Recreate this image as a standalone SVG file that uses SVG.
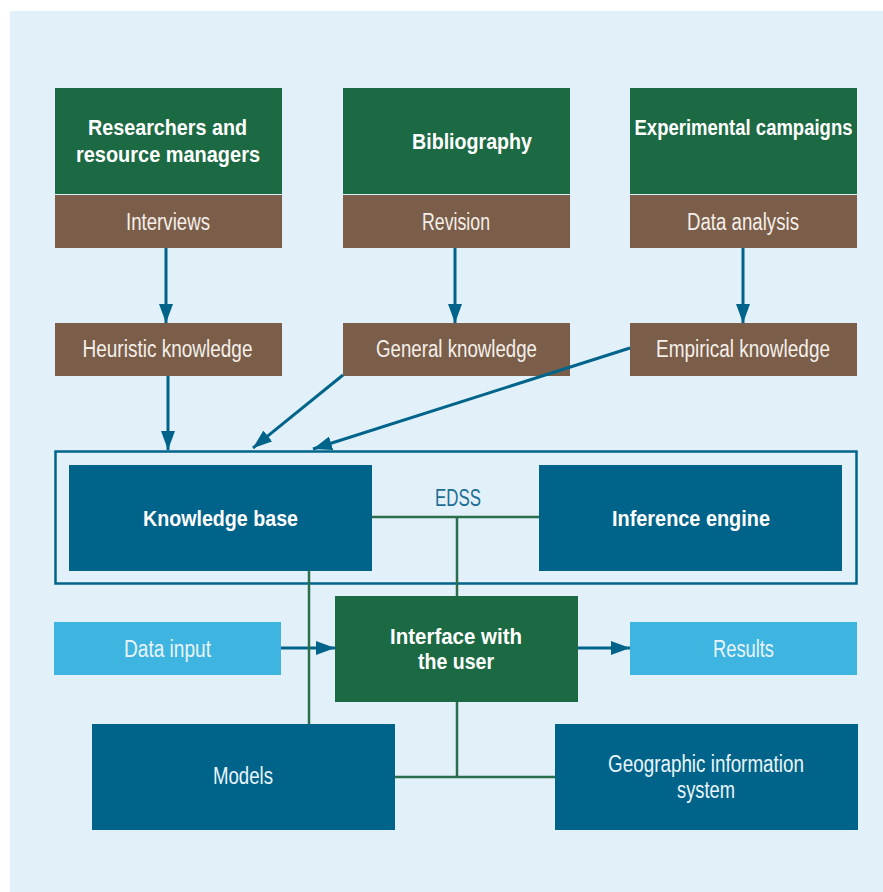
<svg xmlns="http://www.w3.org/2000/svg" width="883" height="892" viewBox="0 0 883 892">
<defs>
<style>
.g{fill:#1C6A43}
.b{fill:#7B5E49}
.d{fill:#00648A}
.c{fill:#3DB5E0}
.tb{font-family:"Liberation Sans",Arial,sans-serif;font-weight:bold;font-size:22px;fill:#FFFFFF;text-anchor:middle}
.tl{font-family:"Liberation Sans",Arial,sans-serif;font-size:23px;fill:#F4EFEA;text-anchor:middle}
.tw{font-family:"Liberation Sans",Arial,sans-serif;font-size:23px;fill:#EAF4FA;text-anchor:middle}
.arr{stroke:#00648A;stroke-width:3;fill:none;marker-end:url(#ah)}
.gl{stroke:#2A6E4C;stroke-width:2.5;fill:none}
</style>
<marker id="ah" markerUnits="userSpaceOnUse" markerWidth="20" markerHeight="14" refX="19" refY="7" orient="auto">
<path d="M0,0 L19,7 L0,14 Z" fill="#00648A"/>
</marker>
</defs>
<rect x="0" y="0" width="883" height="892" fill="#FFFFFF"/>
<rect x="10" y="11" width="873" height="881" fill="#E2F0F9"/>

<g id="edss">
<rect x="55.5" y="451.5" width="801" height="132" fill="none" stroke="#00648A" stroke-width="2.5"/>
<text x="458" y="506" font-family="'Liberation Sans',Arial,sans-serif" font-size="23" fill="#1D6E93" text-anchor="middle" textLength="46" lengthAdjust="spacingAndGlyphs">EDSS</text>
</g>

<g id="researchers">
<rect class="g" x="55" y="88" width="227" height="106"/>
<text class="tb" x="167.5" y="135" textLength="159" lengthAdjust="spacingAndGlyphs">Researchers and</text>
<text class="tb" x="168" y="162" textLength="184" lengthAdjust="spacingAndGlyphs">resource managers</text>
</g>
<g id="interviews">
<rect class="b" x="55" y="195" width="227" height="53"/>
<text class="tl" x="168" y="230" textLength="84" lengthAdjust="spacingAndGlyphs">Interviews</text>
</g>
<g id="bibliography">
<rect class="g" x="343" y="88" width="227" height="106"/>
<text class="tb" x="472" y="149" textLength="120" lengthAdjust="spacingAndGlyphs">Bibliography</text>
</g>
<g id="revision">
<rect class="b" x="343" y="195" width="227" height="53"/>
<text class="tl" x="456" y="230" textLength="68" lengthAdjust="spacingAndGlyphs">Revision</text>
</g>
<g id="experimental">
<rect class="g" x="630" y="88" width="227" height="106"/>
<text class="tb" x="743.5" y="135" textLength="218" lengthAdjust="spacingAndGlyphs">Experimental campaigns</text>
</g>
<g id="dataanalysis">
<rect class="b" x="630" y="195" width="227" height="53"/>
<text class="tl" x="743" y="230" textLength="112" lengthAdjust="spacingAndGlyphs">Data analysis</text>
</g>
<g id="heuristic">
<rect class="b" x="55" y="323" width="227" height="53"/>
<text class="tl" x="167.5" y="357" textLength="170" lengthAdjust="spacingAndGlyphs">Heuristic knowledge</text>
</g>
<g id="general">
<rect class="b" x="343" y="323" width="227" height="53"/>
<text class="tl" x="456.5" y="357" textLength="161" lengthAdjust="spacingAndGlyphs">General knowledge</text>
</g>
<g id="empirical">
<rect class="b" x="630" y="323" width="227" height="53"/>
<text class="tl" x="743" y="357" textLength="174" lengthAdjust="spacingAndGlyphs">Empirical knowledge</text>
</g>
<g id="knowledgebase">
<rect class="d" x="69" y="465" width="303" height="106"/>
<text class="tb" x="220.5" y="526" textLength="155" lengthAdjust="spacingAndGlyphs">Knowledge base</text>
</g>
<g id="inference">
<rect class="d" x="539" y="465" width="303" height="106"/>
<text class="tb" x="691" y="526" textLength="158" lengthAdjust="spacingAndGlyphs">Inference engine</text>
</g>
<g id="interface">
<rect class="g" x="335" y="596" width="243" height="106"/>
<text class="tb" x="456" y="644" textLength="132" lengthAdjust="spacingAndGlyphs">Interface with</text>
<text class="tb" x="456" y="669" textLength="76" lengthAdjust="spacingAndGlyphs">the user</text>
</g>
<g id="datainput">
<rect class="c" x="54" y="622" width="227" height="53"/>
<text class="tw" x="167.5" y="657" textLength="87" lengthAdjust="spacingAndGlyphs">Data input</text>
</g>
<g id="results">
<rect class="c" x="630" y="622" width="227" height="53"/>
<text class="tw" x="743.5" y="657" textLength="61" lengthAdjust="spacingAndGlyphs">Results</text>
</g>
<g id="models">
<rect class="d" x="92" y="724" width="303" height="106"/>
<text class="tw" x="243" y="784" textLength="60" lengthAdjust="spacingAndGlyphs">Models</text>
</g>
<g id="gis">
<rect class="d" x="555" y="724" width="303" height="106"/>
<text class="tw" x="706" y="772" textLength="196" lengthAdjust="spacingAndGlyphs">Geographic information</text>
<text class="tw" x="706" y="798" textLength="58" lengthAdjust="spacingAndGlyphs">system</text>
</g>

<g id="connectors">
<line class="arr" x1="166" y1="248" x2="166" y2="323"/>
<line class="arr" x1="455" y1="248" x2="455" y2="323"/>
<line class="arr" x1="743" y1="248" x2="743" y2="323"/>
<line class="arr" x1="168" y1="376" x2="168" y2="450"/>
<line class="arr" x1="343" y1="375" x2="253" y2="448"/>
<line class="arr" x1="630" y1="348" x2="313" y2="449"/>
<line class="arr" x1="281" y1="648" x2="335" y2="648"/>
<line class="arr" x1="578" y1="648" x2="630" y2="648"/>
<polyline class="gl" points="372,517 539,517"/>
<polyline class="gl" points="457,517 457,596"/>
<polyline class="gl" points="309,571 309,724"/>
<polyline class="gl" points="457,702 457,777"/>
<polyline class="gl" points="395,777 555,777"/>
</g>
</svg>
